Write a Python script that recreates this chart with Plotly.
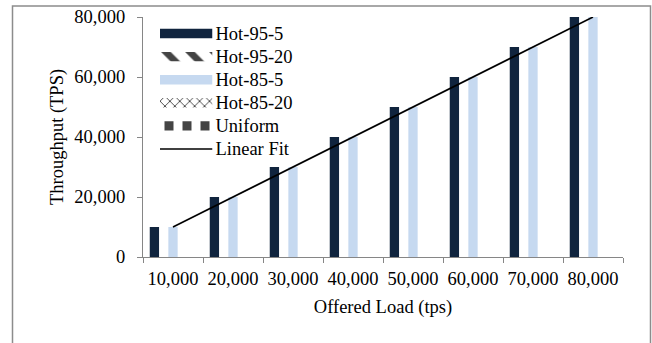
import plotly.graph_objects as go

# Offered load categories (tps)
categories = ["10,000", "20,000", "30,000", "40,000", "50,000", "60,000", "70,000", "80,000"]

# Measured throughput (TPS) per workload
hot_95_5 = [10000, 20000, 30000, 40000, 50000, 60000, 70000, 80000]
hot_95_20 = [None, None, None, None, None, None, None, None]
hot_85_5 = [10000, 20000, 30000, 40000, 50000, 60000, 70000, 80000]
hot_85_20 = [None, None, None, None, None, None, None, None]
uniform = [None, None, None, None, None, None, None, None]

# Linear trend through the measurements
linear_fit = [10000, 20000, 30000, 40000, 50000, 60000, 70000, 80000]

series_names = ["Hot-95-5", "Hot-95-20", "Hot-85-5", "Hot-85-20", "Uniform"]
legend_names = series_names + ["Linear Fit"]

y_ticks = [0, 20000, 40000, 60000, 80000]

DARK = "#10243E"
LIGHT = "#C6D9F0"
FONT = "Liberation Serif, Times New Roman, serif"
FS = 18.5
AXIS_GREY = "#868686"

styles = {
    "Hot-95-5": dict(color=DARK, shape="", fg=DARK, bg=DARK, size=8, sol=0.5),
    "Hot-95-20": dict(color="white", shape="\\", fg="black", bg="white", size=17, sol=0.4),
    "Hot-85-5": dict(color=LIGHT, shape="", fg=LIGHT, bg=LIGHT, size=8, sol=0.5),
    "Hot-85-20": dict(color="white", shape="x", fg="#a8a8a8", bg="white", size=7, sol=0.25),
    "Uniform": dict(color="white", shape="|", fg="black", bg="white", size=18, sol=0.5),
}

series_values = [hot_95_5, hot_95_20, hot_85_5, hot_85_20, uniform]

fig = go.Figure()

for name, vals in zip(series_names, series_values):
    s = styles[name]
    fig.add_trace(go.Bar(
        x=categories, y=vals, name=name, showlegend=False,
        marker=dict(color=s["color"], line=dict(width=0),
                    pattern=dict(shape=s["shape"], fgcolor=s["fg"], bgcolor=s["bg"],
                                 fgopacity=1, size=s["size"], solidity=s["sol"])),
        xaxis="x", yaxis="y",
    ))

fig.add_trace(go.Scatter(
    x=categories, y=linear_fit, name="Linear Fit", mode="lines",
    line=dict(color="black", width=1.6), showlegend=False,
    xaxis="x", yaxis="y",
))

# Legend swatches on a small helper subplot (wide keys, labels on the right)
fig.add_trace(go.Bar(
    y=series_names, x=[1] * len(series_names), orientation="h", width=0.41,
    base=0, showlegend=False, hoverinfo="skip",
    marker=dict(
        color=[styles[n]["color"] for n in series_names],
        line=dict(width=0),
        pattern=dict(
            shape=[styles[n]["shape"] for n in series_names],
            fgcolor=[styles[n]["fg"] for n in series_names],
            bgcolor=[styles[n]["bg"] for n in series_names],
            size=[styles[n]["size"] for n in series_names],
            solidity=[styles[n]["sol"] for n in series_names],
            fgopacity=1,
        ),
    ),
    xaxis="x2", yaxis="y2",
))
fig.add_trace(go.Scatter(
    x=[0, 1], y=["Linear Fit", "Linear Fit"], mode="lines",
    line=dict(color="black", width=1.6), showlegend=False, hoverinfo="skip",
    xaxis="x2", yaxis="y2",
))

L, R, T, B = 143, 29, 17, 86
W, H = 652, 343
pw, ph = W - L - R, H - T - B

fig.update_layout(
    width=W, height=H,
    margin=dict(l=L, r=R, t=T, b=B),
    paper_bgcolor="white", plot_bgcolor="white",
    barmode="group", bargap=0.225, bargroupgap=0,
    font=dict(family=FONT, size=FS, color="black"),
    xaxis=dict(
        type="category", showgrid=False, zeroline=False, automargin=False,
        showline=True, linecolor=AXIS_GREY, linewidth=1.3,
        ticks="outside", tickson="boundaries", ticklen=5, tickcolor=AXIS_GREY, tickwidth=1.3,
        ticklabelstandoff=5, tickangle=0,
        tickfont=dict(family=FONT, size=FS, color="black"),
        title=dict(text="Offered Load (tps)", standoff=11,
                   font=dict(family=FONT, size=FS, color="black")),
    ),
    yaxis=dict(
        range=[0, 80000], tickvals=y_ticks, tickformat=",", automargin=False,
        showgrid=False, zeroline=False,
        showline=True, linecolor=AXIS_GREY, linewidth=1.3,
        ticks="outside", ticklen=5, tickcolor=AXIS_GREY, tickwidth=1.3,
        ticklabelstandoff=8,
        tickfont=dict(family=FONT, size=FS, color="black"),
        title=dict(text="Throughput (TPS)", standoff=5,
                   font=dict(family=FONT, size=FS, color="black")),
    ),
    xaxis2=dict(
        domain=[(160 - L) / pw, (212.5 - L) / pw], range=[0, 1], anchor="y2",
        visible=False, fixedrange=True,
    ),
    yaxis2=dict(
        domain=[(H - B - 160.5) / ph, (H - B - 22) / ph], anchor="x2",
        type="category", categoryorder="array", categoryarray=legend_names,
        range=[5.5, -0.5], side="right", showgrid=False, zeroline=False,
        showline=False, ticks="", ticklabelstandoff=2, automargin=False,
        tickfont=dict(family=FONT, size=FS, color="black"), fixedrange=True,
    ),
    shapes=[dict(
        type="rect", xref="paper", yref="paper",
        x0=(12.5 - L) / pw, x1=(650.5 - L) / pw,
        y0=-1.0, y1=(H - B - 6) / ph,
        line=dict(color="#8c8c8c", width=1.5), fillcolor="rgba(0,0,0,0)", layer="below",
    )],
)

fig.write_html("out.html")
